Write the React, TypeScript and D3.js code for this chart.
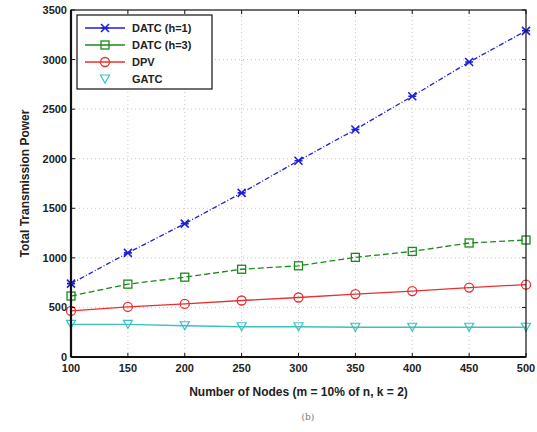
import { useRef, useEffect } from "react";
import * as d3 from "d3";

const NODES = [100, 150, 200, 250, 300, 350, 400, 450, 500];
const DATC_H1 = [740, 1050, 1345, 1655, 1980, 2295, 2630, 2975, 3290];
const DATC_H3 = [615, 735, 805, 885, 920, 1005, 1065, 1150, 1180];
const DPV = [465, 505, 535, 570, 600, 635, 665, 700, 730];
const GATC = [330, 330, 315, 305, 305, 300, 300, 300, 300];
const X_TICKS = [100, 150, 200, 250, 300, 350, 400, 450, 500];
const Y_TICKS = [0, 500, 1000, 1500, 2000, 2500, 3000, 3500];

const SERIES = [
  { name: "DATC (h=1)", values: DATC_H1, color: "#1f1fd8", dash: "5,2,1,2", marker: "x" },
  { name: "DATC (h=3)", values: DATC_H3, color: "#1a8a1a", dash: "6,3", marker: "square" },
  { name: "DPV", values: DPV, color: "#e83030", dash: "", marker: "circle" },
  { name: "GATC", values: GATC, color: "#3cc0c0", dash: "", marker: "tri" },
];

const W = 537;
const H = 432;
const M = { left: 71, right: 11, top: 10, bottom: 75 };
const FONT = "'Liberation Sans', Arial, sans-serif";

function drawMarker(g: any, kind: string, x: number, y: number, color: string) {
  if (kind === "x") {
    g.append("path")
      .attr("d", `M${x - 4},${y - 4}L${x + 4},${y + 4}M${x - 4},${y + 4}L${x + 4},${y - 4}M${x - 4},${y}L${x + 4},${y}`)
      .attr("stroke", color).attr("stroke-width", 1.6).attr("fill", "none");
  } else if (kind === "square") {
    g.append("rect").attr("x", x - 4).attr("y", y - 4).attr("width", 8).attr("height", 8)
      .attr("stroke", color).attr("stroke-width", 1.3).attr("fill", "none");
  } else if (kind === "circle") {
    g.append("circle").attr("cx", x).attr("cy", y).attr("r", 4.5)
      .attr("stroke", color).attr("stroke-width", 1.3).attr("fill", "none");
  } else {
    g.append("path").attr("d", `M${x - 4.5},${y - 4}L${x + 4.5},${y - 4}L${x},${y + 4}Z`)
      .attr("stroke", color).attr("stroke-width", 1.2).attr("fill", "none");
  }
}

export default function App() {
  const svgRef = useRef<SVGSVGElement>(null);

  useEffect(() => {
    if (!svgRef.current) return;
    const svg = d3.select(svgRef.current);
    svg.selectAll("*").remove();

    const x = d3.scaleLinear().domain([100, 500]).range([M.left, W - M.right]);
    const y = d3.scaleLinear().domain([0, 3500]).range([H - M.bottom, M.top]);
    const [x0, x1] = x.range();
    const [y0, y1] = y.range();

    svg.append("rect").attr("width", W).attr("height", H).attr("fill", "white");

    // grid
    const grid = svg.append("g").attr("stroke", "#b8b8b8").attr("stroke-width", 0.8).attr("stroke-dasharray", "1,3");
    X_TICKS.slice(1, -1).forEach((t) => {
      grid.append("line").attr("x1", x(t)).attr("x2", x(t)).attr("y1", y0).attr("y2", y1);
    });
    Y_TICKS.slice(1, -1).forEach((t) => {
      grid.append("line").attr("x1", x0).attr("x2", x1).attr("y1", y(t)).attr("y2", y(t));
    });

    // series
    const line = d3.line<number>().x((_, i) => x(NODES[i])).y((d) => y(d));
    SERIES.forEach((s) => {
      svg.append("path").datum(s.values).attr("d", line).attr("fill", "none")
        .attr("stroke", s.color).attr("stroke-width", 1.3)
        .attr("stroke-dasharray", s.dash || null);
      const g = svg.append("g");
      s.values.forEach((v, i) => drawMarker(g, s.marker, x(NODES[i]), y(v), s.color));
    });

    // box and ticks
    const axis = svg.append("g").attr("stroke", "#111").attr("fill", "none");
    axis.append("rect").attr("x", x0).attr("y", y1).attr("width", x1 - x0).attr("height", y0 - y1).attr("stroke-width", 1.2);
    axis.append("line").attr("x1", x0).attr("x2", x0).attr("y1", y1).attr("y2", y0).attr("stroke-width", 2.2);
    axis.append("line").attr("x1", x0).attr("x2", x1).attr("y1", y0).attr("y2", y0).attr("stroke-width", 2.2);
    X_TICKS.forEach((t) => {
      axis.append("line").attr("x1", x(t)).attr("x2", x(t)).attr("y1", y0).attr("y2", y0 - 4);
      axis.append("line").attr("x1", x(t)).attr("x2", x(t)).attr("y1", y1).attr("y2", y1 + 4);
    });
    Y_TICKS.forEach((t) => {
      axis.append("line").attr("x1", x0).attr("x2", x0 + 4).attr("y1", y(t)).attr("y2", y(t));
      axis.append("line").attr("x1", x1).attr("x2", x1 - 4).attr("y1", y(t)).attr("y2", y(t));
    });

    const txt = svg.append("g").attr("font-family", FONT).attr("fill", "#222").attr("font-weight", "bold");
    X_TICKS.forEach((t) => {
      txt.append("text").attr("x", x(t)).attr("y", y0 + 15).attr("text-anchor", "middle")
        .attr("font-size", 11).text(t);
    });
    Y_TICKS.forEach((t) => {
      txt.append("text").attr("x", x0 - 4).attr("y", y(t) + 4).attr("text-anchor", "end")
        .attr("font-size", 11).text(t);
    });
    txt.append("text").attr("x", (x0 + x1) / 2).attr("y", 396).attr("text-anchor", "middle")
      .attr("font-size", 12).text("Number of Nodes (m = 10% of n, k = 2)");
    txt.append("text").attr("transform", `translate(29,${(y0 + y1) / 2}) rotate(-90)`)
      .attr("text-anchor", "middle").attr("font-size", 12).text("Total Transmission Power");
    svg.append("text").attr("x", 308).attr("y", 420).attr("text-anchor", "middle")
      .attr("font-family", "'DejaVu Serif', serif").attr("font-size", 9).attr("fill", "#777").text("(b)");

    // legend
    const lg = svg.append("g");
    lg.append("rect").attr("x", 77).attr("y", 15).attr("width", 135).attr("height", 74)
      .attr("fill", "white").attr("stroke", "#111").attr("stroke-width", 1.2);
    SERIES.forEach((s, i) => {
      const ly = 28 + i * 17;
      if (s.marker !== "tri") {
        lg.append("line").attr("x1", 85).attr("x2", 125).attr("y1", ly).attr("y2", ly)
          .attr("stroke", s.color).attr("stroke-width", 1.3);
      }
      drawMarker(lg, s.marker, 105, ly, s.color);
      lg.append("text").attr("x", 132).attr("y", ly + 4).attr("font-family", FONT)
        .attr("font-weight", "bold").attr("font-size", 11).attr("fill", "#222").text(s.name);
    });
  }, []);

  return (
    <svg ref={svgRef} width={W} height={H}
      style={{ position: "absolute", left: 0, top: 0, display: "block" }} />
  );
}
